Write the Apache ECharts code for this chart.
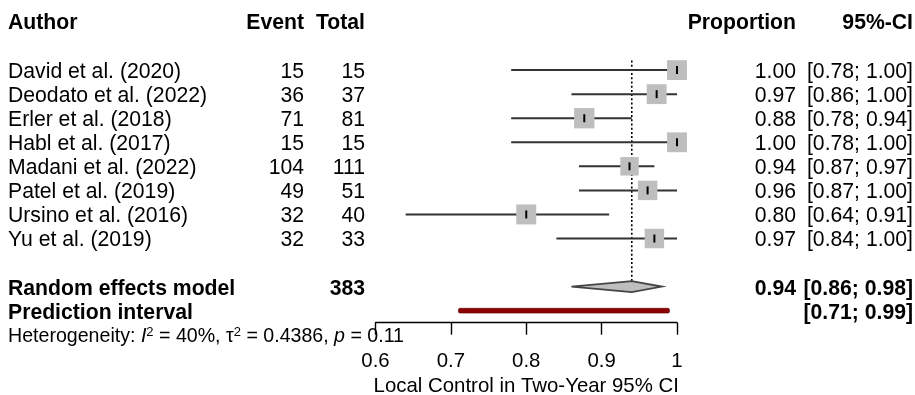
<!DOCTYPE html>
<html>
<head>
<meta charset="utf-8">
<script src="https://cdn.jsdelivr.net/npm/echarts@6/dist/echarts.min.js"></script>
<style>
html,body{margin:0;padding:0;background:#fff;}
#chart{width:915px;height:395px;}
</style>
</head>
<body>
<div id="chart"></div>
<script>
// ---------- data ----------
const authors = ["David et al. (2020)", "Deodato et al. (2022)", "Erler et al. (2018)", "Habl et al. (2017)",
  "Madani et al. (2022)", "Patel et al. (2019)", "Ursino et al. (2016)", "Yu et al. (2019)"];
const events = [15, 36, 71, 15, 104, 49, 32, 32];
const totals = [15, 37, 81, 15, 111, 51, 40, 33];
const estimates = [1.000, 0.973, 0.877, 1.000, 0.937, 0.961, 0.800, 0.970];
const ciLower = [0.78, 0.86, 0.78, 0.78, 0.87, 0.87, 0.64, 0.84];
const ciUpper = [1.00, 1.00, 0.94, 1.00, 0.97, 1.00, 0.91, 1.00];
const weights = [12.8, 12.8, 13.4, 12.8, 11.0, 12.3, 12.9, 12.3];
const pooled = [0.94, 0.86, 0.98];      // estimate, lower, upper
const predInterval = [0.71, 0.99];
const totalN = 383;
const xTicks = [0.6, 0.7, 0.8, 0.9, 1];
const headers = ["Author", "Event", "Total", "Proportion", "95%-CI"];
const hetText = { I2: "40%", tau2: "0.4386", p: "0.11" };
const axisTitle = "Local Control in Two-Year 95% CI";

// ---------- layout ----------
const FONT = "'Liberation Sans', Arial, sans-serif";
const FS = 21.2;
const ROW_FIRST = 2, ROW_POOL = 11, ROW_PRED = 12, ROW_HET = 13;
const colX = { author: 8, event: 304, total: 365, prop: 796, ci: 913 };
const f2 = v => v.toFixed(2);

const chart = echarts.init(document.getElementById('chart'), null, { renderer: 'canvas' });

function txt(x, y, s, align, bold, size) {
  return {
    type: 'text',
    style: {
      x: x, y: y, text: s, fill: '#000',
      font: (bold ? 'bold ' : '') + (size || FS) + 'px ' + FONT,
      align: align, verticalAlign: 'middle'
    }
  };
}

const studyData = authors.map((a, i) => [estimates[i], ROW_FIRST + i, ciLower[i], ciUpper[i], weights[i]]);

const option = {
  animation: false,
  textStyle: { fontFamily: FONT },
  grid: { left: 375.5, width: 301.5, top: 22, height: 300.7, containLabel: false, outerBoundsMode: 'none' },
  xAxis: {
    type: 'value', min: 0.6, max: 1, interval: 0.1, position: 'bottom',
    axisLine: { show: true, onZero: false, lineStyle: { color: '#000', width: 1.4 } },
    axisTick: { show: true, length: 12, lineStyle: { color: '#000', width: 1.4 } },
    axisLabel: { color: '#000', fontSize: 20.4, fontFamily: FONT, margin: 29,
      formatter: v => { const t = xTicks.find(tt => Math.abs(tt - v) < 1e-6); return t === undefined ? '' : String(t); } },
    splitLine: { show: false },
    name: axisTitle, nameLocation: 'middle', nameGap: 53,
    nameTextStyle: { color: '#000', fontSize: 20.4, fontFamily: FONT }
  },
  yAxis: { type: 'value', min: 0, max: 12.5, inverse: true, show: false },
  series: [
    {
      // header + reference line + summary rows
      type: 'custom', clip: false, z: 1,
      data: [[pooled[0], ROW_POOL]],
      renderItem: function (params, api) {
        const yH = api.coord([0.6, 0])[1] + 1;
        const ch = [];
        ch.push(txt(colX.author, yH, headers[0], 'left', true));
        ch.push(txt(colX.event, yH, headers[1], 'right', true));
        ch.push(txt(colX.total, yH, headers[2], 'right', true));
        ch.push(txt(colX.prop, yH, headers[3], 'right', true));
        ch.push(txt(colX.ci, yH, headers[4], 'right', true));
        // dotted reference line at pooled estimate
        const top = api.coord([pooled[0], ROW_FIRST - 0.4]);
        const bot = api.coord([pooled[0], ROW_POOL - 0.22]);
        ch.push({ type: 'line', shape: { x1: top[0], y1: top[1], x2: bot[0], y2: bot[1] },
          style: { stroke: '#000', lineWidth: 1.6, lineDash: [2, 2.2] } });
        // diamond
        const yP = api.coord([0.6, ROW_POOL])[1];
        const xl = api.coord([pooled[1], ROW_POOL])[0];
        const xc = api.coord([pooled[0], ROW_POOL])[0];
        const xr = api.coord([pooled[2], ROW_POOL])[0];
        ch.push({ type: 'polygon', shape: { points: [[xl, yP], [xc, yP - 5.5], [xr, yP], [xc, yP + 5.5]] },
          style: { fill: '#BEBEBE', stroke: '#444', lineWidth: 1.8 }, z2: 5 });
        ch.push(txt(colX.author, yP + 2.5, 'Random effects model', 'left', true));
        ch.push(txt(colX.total, yP + 2.5, String(totalN), 'right', true));
        ch.push(txt(colX.prop, yP + 2.5, f2(pooled[0]), 'right', true));
        ch.push(txt(colX.ci, yP + 2.5, '[' + f2(pooled[1]) + '; ' + f2(pooled[2]) + ']', 'right', true));
        // prediction interval
        const yQ = api.coord([0.6, ROW_PRED])[1];
        const pl = api.coord([predInterval[0], ROW_PRED])[0];
        const pr = api.coord([predInterval[1], ROW_PRED])[0];
        ch.push({ type: 'rect', shape: { x: pl, y: yQ - 2.4, width: pr - pl, height: 4.8, r: 1.5 },
          style: { fill: '#8B0000', stroke: '#5a0000', lineWidth: 0.6 } });
        ch.push(txt(colX.author, yQ + 2, 'Prediction interval', 'left', true));
        ch.push(txt(colX.ci, yQ + 2, '[' + f2(predInterval[0]) + '; ' + f2(predInterval[1]) + ']', 'right', true));
        // heterogeneity
        const yT = api.coord([0.6, ROW_HET])[1];
        ch.push({
          type: 'text',
          style: {
            x: colX.author, y: yT + 2, fill: '#000', align: 'left', verticalAlign: 'middle',
            text: '{n|Heterogeneity: }{i|I}{s|2}{n| = ' + hetText.I2 + ', τ}{s|2}{n| = ' + hetText.tau2 +
                  ', }{i|p}{n| = ' + hetText.p + '}',
            rich: {
              n: { fontSize: 19.6, fontFamily: FONT, lineHeight: 22, fill: '#000' },
              i: { fontSize: 19.6, fontFamily: FONT, fontStyle: 'italic', lineHeight: 22, fill: '#000' },
              s: { fontSize: 13, fontFamily: FONT, lineHeight: 22, verticalAlign: 'top', fill: '#000', padding: [0, 0, 8, 0] }
            }
          }
        });
        return { type: 'group', children: ch };
      }
    },
    {
      type: 'custom', clip: false, z: 3,
      data: studyData,
      renderItem: function (params, api) {
        const i = params.dataIndex;
        const row = api.value(1);
        const p = api.coord([api.value(0), row]);
        const lo = api.coord([api.value(2), row]);
        const hi = api.coord([api.value(3), row]);
        const size = Math.sqrt(api.value(4)) * 5.55;
        const ch = [];
        ch.push({ type: 'line', shape: { x1: lo[0], y1: lo[1], x2: hi[0], y2: hi[1] },
          style: { stroke: '#333', lineWidth: 2 } });
        ch.push({ type: 'rect', shape: { x: p[0] - size / 2, y: p[1] - size / 2, width: size, height: size },
          style: { fill: '#BEBEBE' }, z2: 2 });
        ch.push({ type: 'line', shape: { x1: p[0], y1: p[1] - 4, x2: p[0], y2: p[1] + 4 },
          style: { stroke: '#000', lineWidth: 2 }, z2: 3 });
        const ty = p[1] + 2;
        ch.push(txt(colX.author, ty, authors[i], 'left', false));
        ch.push(txt(colX.event, ty, String(events[i]), 'right', false));
        ch.push(txt(colX.total, ty, String(totals[i]), 'right', false));
        ch.push(txt(colX.prop, ty, f2(estimates[i]), 'right', false));
        ch.push(txt(colX.ci, ty, '[' + f2(ciLower[i]) + '; ' + f2(ciUpper[i]) + ']', 'right', false));
        return { type: 'group', children: ch };
      }
    }
  ]
};
chart.setOption(option);
</script>
</body>
</html>
